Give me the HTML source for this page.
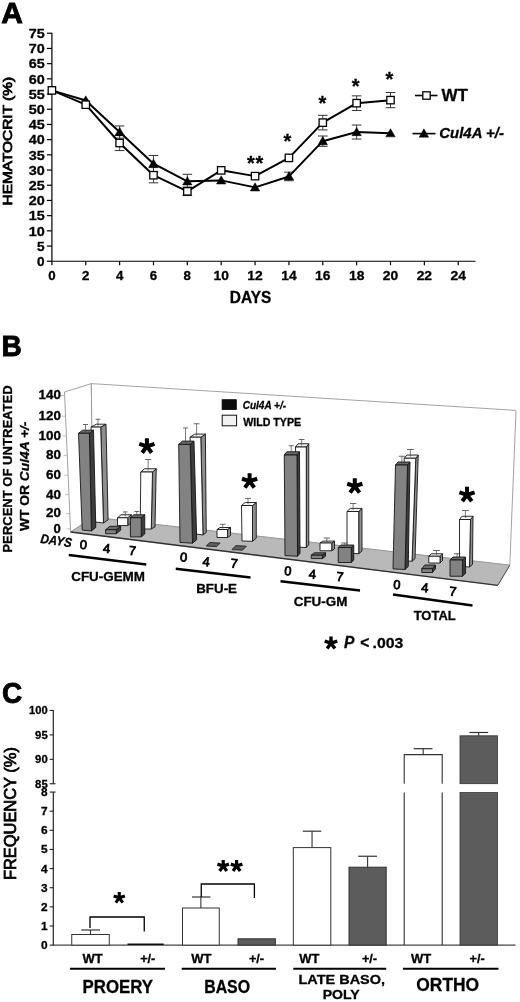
<!DOCTYPE html>
<html><head><meta charset="utf-8"><title>Figure</title>
<style>
html,body{margin:0;padding:0;background:#fff;}
body{width:520px;height:1002px;overflow:hidden;}
svg{display:block;font-family:"Liberation Sans",sans-serif;}
text{fill:#000;stroke:#000;stroke-width:0.3px;}
.big{stroke-width:0.9px;}
.med{font-weight:normal;stroke:#000;stroke-width:0.8px;}
</style></head><body>
<svg width="520" height="1002" viewBox="0 0 520 1002">
<defs><filter id="soft" x="0" y="0" width="520" height="1002" filterUnits="userSpaceOnUse"><feGaussianBlur stdDeviation="0.3"/></filter></defs>
<rect x="0" y="0" width="520" height="1002" fill="#fff"/>
<g filter="url(#soft)">
<g id="pA">
<text transform="translate(1.2,23.1) scale(1.0,1)" font-size="30.0" font-weight="bold" class="big">A</text>
<line x1="51.90" y1="32.65" x2="51.90" y2="261.85" stroke="#000" stroke-width="1.2" />
<line x1="51.30" y1="261.25" x2="475.50" y2="261.25" stroke="#000" stroke-width="1.2" />
<line x1="46.90" y1="261.25" x2="51.90" y2="261.25" stroke="#000" stroke-width="1.2" />
<text x="44.70" y="265.95" font-size="13.2" font-weight="bold" text-anchor="end" textLength="7.60" lengthAdjust="spacingAndGlyphs">0</text>
<line x1="46.90" y1="246.05" x2="51.90" y2="246.05" stroke="#000" stroke-width="1.2" />
<text x="44.70" y="250.75" font-size="13.2" font-weight="bold" text-anchor="end" textLength="7.60" lengthAdjust="spacingAndGlyphs">5</text>
<line x1="46.90" y1="230.85" x2="51.90" y2="230.85" stroke="#000" stroke-width="1.2" />
<text x="44.70" y="235.55" font-size="13.2" font-weight="bold" text-anchor="end" textLength="16.00" lengthAdjust="spacingAndGlyphs">10</text>
<line x1="46.90" y1="215.65" x2="51.90" y2="215.65" stroke="#000" stroke-width="1.2" />
<text x="44.70" y="220.35" font-size="13.2" font-weight="bold" text-anchor="end" textLength="16.00" lengthAdjust="spacingAndGlyphs">15</text>
<line x1="46.90" y1="200.45" x2="51.90" y2="200.45" stroke="#000" stroke-width="1.2" />
<text x="44.70" y="205.15" font-size="13.2" font-weight="bold" text-anchor="end" textLength="16.00" lengthAdjust="spacingAndGlyphs">20</text>
<line x1="46.90" y1="185.25" x2="51.90" y2="185.25" stroke="#000" stroke-width="1.2" />
<text x="44.70" y="189.95" font-size="13.2" font-weight="bold" text-anchor="end" textLength="16.00" lengthAdjust="spacingAndGlyphs">25</text>
<line x1="46.90" y1="170.05" x2="51.90" y2="170.05" stroke="#000" stroke-width="1.2" />
<text x="44.70" y="174.75" font-size="13.2" font-weight="bold" text-anchor="end" textLength="16.00" lengthAdjust="spacingAndGlyphs">30</text>
<line x1="46.90" y1="154.85" x2="51.90" y2="154.85" stroke="#000" stroke-width="1.2" />
<text x="44.70" y="159.55" font-size="13.2" font-weight="bold" text-anchor="end" textLength="16.00" lengthAdjust="spacingAndGlyphs">35</text>
<line x1="46.90" y1="139.65" x2="51.90" y2="139.65" stroke="#000" stroke-width="1.2" />
<text x="44.70" y="144.35" font-size="13.2" font-weight="bold" text-anchor="end" textLength="16.00" lengthAdjust="spacingAndGlyphs">40</text>
<line x1="46.90" y1="124.45" x2="51.90" y2="124.45" stroke="#000" stroke-width="1.2" />
<text x="44.70" y="129.15" font-size="13.2" font-weight="bold" text-anchor="end" textLength="16.00" lengthAdjust="spacingAndGlyphs">45</text>
<line x1="46.90" y1="109.25" x2="51.90" y2="109.25" stroke="#000" stroke-width="1.2" />
<text x="44.70" y="113.95" font-size="13.2" font-weight="bold" text-anchor="end" textLength="16.00" lengthAdjust="spacingAndGlyphs">50</text>
<line x1="46.90" y1="94.05" x2="51.90" y2="94.05" stroke="#000" stroke-width="1.2" />
<text x="44.70" y="98.75" font-size="13.2" font-weight="bold" text-anchor="end" textLength="16.00" lengthAdjust="spacingAndGlyphs">55</text>
<line x1="46.90" y1="78.85" x2="51.90" y2="78.85" stroke="#000" stroke-width="1.2" />
<text x="44.70" y="83.55" font-size="13.2" font-weight="bold" text-anchor="end" textLength="16.00" lengthAdjust="spacingAndGlyphs">60</text>
<line x1="46.90" y1="63.65" x2="51.90" y2="63.65" stroke="#000" stroke-width="1.2" />
<text x="44.70" y="68.35" font-size="13.2" font-weight="bold" text-anchor="end" textLength="16.00" lengthAdjust="spacingAndGlyphs">65</text>
<line x1="46.90" y1="48.45" x2="51.90" y2="48.45" stroke="#000" stroke-width="1.2" />
<text x="44.70" y="53.15" font-size="13.2" font-weight="bold" text-anchor="end" textLength="16.00" lengthAdjust="spacingAndGlyphs">70</text>
<line x1="46.90" y1="33.25" x2="51.90" y2="33.25" stroke="#000" stroke-width="1.2" />
<text x="44.70" y="37.95" font-size="13.2" font-weight="bold" text-anchor="end" textLength="16.00" lengthAdjust="spacingAndGlyphs">75</text>
<line x1="51.90" y1="261.25" x2="51.90" y2="265.25" stroke="#000" stroke-width="1.2" />
<text x="51.90" y="279.70" font-size="13.2" font-weight="bold" text-anchor="middle" textLength="7.40" lengthAdjust="spacingAndGlyphs">0</text>
<line x1="85.76" y1="261.25" x2="85.76" y2="265.25" stroke="#000" stroke-width="1.2" />
<text x="85.76" y="279.70" font-size="13.2" font-weight="bold" text-anchor="middle" textLength="7.40" lengthAdjust="spacingAndGlyphs">2</text>
<line x1="119.62" y1="261.25" x2="119.62" y2="265.25" stroke="#000" stroke-width="1.2" />
<text x="119.62" y="279.70" font-size="13.2" font-weight="bold" text-anchor="middle" textLength="7.40" lengthAdjust="spacingAndGlyphs">4</text>
<line x1="153.48" y1="261.25" x2="153.48" y2="265.25" stroke="#000" stroke-width="1.2" />
<text x="153.48" y="279.70" font-size="13.2" font-weight="bold" text-anchor="middle" textLength="7.40" lengthAdjust="spacingAndGlyphs">6</text>
<line x1="187.34" y1="261.25" x2="187.34" y2="265.25" stroke="#000" stroke-width="1.2" />
<text x="187.34" y="279.70" font-size="13.2" font-weight="bold" text-anchor="middle" textLength="7.40" lengthAdjust="spacingAndGlyphs">8</text>
<line x1="221.20" y1="261.25" x2="221.20" y2="265.25" stroke="#000" stroke-width="1.2" />
<text x="221.20" y="279.70" font-size="13.2" font-weight="bold" text-anchor="middle" textLength="15.40" lengthAdjust="spacingAndGlyphs">10</text>
<line x1="255.06" y1="261.25" x2="255.06" y2="265.25" stroke="#000" stroke-width="1.2" />
<text x="255.06" y="279.70" font-size="13.2" font-weight="bold" text-anchor="middle" textLength="15.40" lengthAdjust="spacingAndGlyphs">12</text>
<line x1="288.92" y1="261.25" x2="288.92" y2="265.25" stroke="#000" stroke-width="1.2" />
<text x="288.92" y="279.70" font-size="13.2" font-weight="bold" text-anchor="middle" textLength="15.40" lengthAdjust="spacingAndGlyphs">14</text>
<line x1="322.78" y1="261.25" x2="322.78" y2="265.25" stroke="#000" stroke-width="1.2" />
<text x="322.78" y="279.70" font-size="13.2" font-weight="bold" text-anchor="middle" textLength="15.40" lengthAdjust="spacingAndGlyphs">16</text>
<line x1="356.64" y1="261.25" x2="356.64" y2="265.25" stroke="#000" stroke-width="1.2" />
<text x="356.64" y="279.70" font-size="13.2" font-weight="bold" text-anchor="middle" textLength="15.40" lengthAdjust="spacingAndGlyphs">18</text>
<line x1="390.50" y1="261.25" x2="390.50" y2="265.25" stroke="#000" stroke-width="1.2" />
<text x="390.50" y="279.70" font-size="13.2" font-weight="bold" text-anchor="middle" textLength="15.40" lengthAdjust="spacingAndGlyphs">20</text>
<line x1="424.36" y1="261.25" x2="424.36" y2="265.25" stroke="#000" stroke-width="1.2" />
<text x="424.36" y="279.70" font-size="13.2" font-weight="bold" text-anchor="middle" textLength="15.40" lengthAdjust="spacingAndGlyphs">22</text>
<line x1="458.22" y1="261.25" x2="458.22" y2="265.25" stroke="#000" stroke-width="1.2" />
<text x="458.22" y="279.70" font-size="13.2" font-weight="bold" text-anchor="middle" textLength="15.40" lengthAdjust="spacingAndGlyphs">24</text>
<text x="250.60" y="303.10" font-size="16.0" font-weight="bold" text-anchor="middle" textLength="41.50" lengthAdjust="spacingAndGlyphs">DAYS</text>
<text transform="translate(12.3,141.2) rotate(-90)" font-size="13.6" text-anchor="middle" textLength="128.5" lengthAdjust="spacingAndGlyphs" class="med">HEMATOCRIT (%)</text>
<line x1="119.62" y1="135.39" x2="119.62" y2="150.59" stroke="#333" stroke-width="0.9" />
<line x1="114.82" y1="135.39" x2="124.42" y2="135.39" stroke="#333" stroke-width="1.0" />
<line x1="114.82" y1="150.59" x2="124.42" y2="150.59" stroke="#333" stroke-width="1.0" />
<line x1="153.48" y1="167.62" x2="153.48" y2="182.82" stroke="#333" stroke-width="0.9" />
<line x1="148.68" y1="167.62" x2="158.28" y2="167.62" stroke="#333" stroke-width="1.0" />
<line x1="148.68" y1="182.82" x2="158.28" y2="182.82" stroke="#333" stroke-width="1.0" />
<line x1="187.34" y1="187.07" x2="187.34" y2="195.59" stroke="#333" stroke-width="0.9" />
<line x1="182.54" y1="187.07" x2="192.14" y2="187.07" stroke="#333" stroke-width="1.0" />
<line x1="182.54" y1="195.59" x2="192.14" y2="195.59" stroke="#333" stroke-width="1.0" />
<line x1="322.78" y1="115.33" x2="322.78" y2="129.92" stroke="#333" stroke-width="0.9" />
<line x1="317.98" y1="115.33" x2="327.58" y2="115.33" stroke="#333" stroke-width="1.0" />
<line x1="317.98" y1="129.92" x2="327.58" y2="129.92" stroke="#333" stroke-width="1.0" />
<line x1="356.64" y1="95.87" x2="356.64" y2="110.47" stroke="#333" stroke-width="0.9" />
<line x1="351.84" y1="95.87" x2="361.44" y2="95.87" stroke="#333" stroke-width="1.0" />
<line x1="351.84" y1="110.47" x2="361.44" y2="110.47" stroke="#333" stroke-width="1.0" />
<line x1="390.50" y1="92.53" x2="390.50" y2="107.73" stroke="#333" stroke-width="0.9" />
<line x1="385.70" y1="92.53" x2="395.30" y2="92.53" stroke="#333" stroke-width="1.0" />
<line x1="385.70" y1="107.73" x2="395.30" y2="107.73" stroke="#333" stroke-width="1.0" />
<line x1="119.62" y1="125.97" x2="119.62" y2="138.13" stroke="#333" stroke-width="0.9" />
<line x1="114.82" y1="125.97" x2="124.42" y2="125.97" stroke="#333" stroke-width="1.0" />
<line x1="114.82" y1="138.13" x2="124.42" y2="138.13" stroke="#333" stroke-width="1.0" />
<line x1="153.48" y1="155.46" x2="153.48" y2="171.87" stroke="#333" stroke-width="0.9" />
<line x1="148.68" y1="155.46" x2="158.28" y2="155.46" stroke="#333" stroke-width="1.0" />
<line x1="148.68" y1="171.87" x2="158.28" y2="171.87" stroke="#333" stroke-width="1.0" />
<line x1="187.34" y1="174.31" x2="187.34" y2="188.29" stroke="#333" stroke-width="0.9" />
<line x1="182.54" y1="174.31" x2="192.14" y2="174.31" stroke="#333" stroke-width="1.0" />
<line x1="182.54" y1="188.29" x2="192.14" y2="188.29" stroke="#333" stroke-width="1.0" />
<line x1="288.92" y1="172.18" x2="288.92" y2="180.69" stroke="#333" stroke-width="0.9" />
<line x1="284.12" y1="172.18" x2="293.72" y2="172.18" stroke="#333" stroke-width="1.0" />
<line x1="284.12" y1="180.69" x2="293.72" y2="180.69" stroke="#333" stroke-width="1.0" />
<line x1="322.78" y1="136.00" x2="322.78" y2="146.34" stroke="#333" stroke-width="0.9" />
<line x1="317.98" y1="136.00" x2="327.58" y2="136.00" stroke="#333" stroke-width="1.0" />
<line x1="317.98" y1="146.34" x2="327.58" y2="146.34" stroke="#333" stroke-width="1.0" />
<line x1="356.64" y1="125.06" x2="356.64" y2="139.04" stroke="#333" stroke-width="0.9" />
<line x1="351.84" y1="125.06" x2="361.44" y2="125.06" stroke="#333" stroke-width="1.0" />
<line x1="351.84" y1="139.04" x2="361.44" y2="139.04" stroke="#333" stroke-width="1.0" />
<polyline points="51.90,90.40 85.76,100.43 119.62,132.05 153.48,163.67 187.34,181.30 221.20,180.39 255.06,187.38 288.92,176.43 322.78,141.17 356.64,132.05 390.50,133.27" fill="none" stroke="#000" stroke-width="2" stroke-linejoin="round"/>
<polyline points="51.90,90.40 85.76,104.69 119.62,142.99 153.48,175.22 187.34,191.33 221.20,170.35 255.06,176.13 288.92,157.89 322.78,122.63 356.64,103.17 390.50,100.13" fill="none" stroke="#000" stroke-width="2" stroke-linejoin="round"/>
<polygon points="85.76,95.83 90.46,104.03 81.06,104.03" fill="#000" stroke="#000" stroke-width="0.5" stroke-linejoin="round" />
<polygon points="119.62,127.45 124.32,135.65 114.92,135.65" fill="#000" stroke="#000" stroke-width="0.5" stroke-linejoin="round" />
<polygon points="153.48,159.07 158.18,167.27 148.78,167.27" fill="#000" stroke="#000" stroke-width="0.5" stroke-linejoin="round" />
<polygon points="187.34,176.70 192.04,184.90 182.64,184.90" fill="#000" stroke="#000" stroke-width="0.5" stroke-linejoin="round" />
<polygon points="221.20,175.79 225.90,183.99 216.50,183.99" fill="#000" stroke="#000" stroke-width="0.5" stroke-linejoin="round" />
<polygon points="255.06,182.78 259.76,190.98 250.36,190.98" fill="#000" stroke="#000" stroke-width="0.5" stroke-linejoin="round" />
<polygon points="288.92,171.83 293.62,180.03 284.22,180.03" fill="#000" stroke="#000" stroke-width="0.5" stroke-linejoin="round" />
<polygon points="322.78,136.57 327.48,144.77 318.08,144.77" fill="#000" stroke="#000" stroke-width="0.5" stroke-linejoin="round" />
<polygon points="356.64,127.45 361.34,135.65 351.94,135.65" fill="#000" stroke="#000" stroke-width="0.5" stroke-linejoin="round" />
<polygon points="390.50,128.67 395.20,136.87 385.80,136.87" fill="#000" stroke="#000" stroke-width="0.5" stroke-linejoin="round" />
<rect x="48.20" y="86.70" width="7.4" height="7.4" fill="#fff" stroke="#000" stroke-width="1.3"/>
<rect x="82.06" y="100.99" width="7.4" height="7.4" fill="#fff" stroke="#000" stroke-width="1.3"/>
<rect x="115.92" y="139.29" width="7.4" height="7.4" fill="#fff" stroke="#000" stroke-width="1.3"/>
<rect x="149.78" y="171.52" width="7.4" height="7.4" fill="#fff" stroke="#000" stroke-width="1.3"/>
<rect x="183.64" y="187.63" width="7.4" height="7.4" fill="#fff" stroke="#000" stroke-width="1.3"/>
<rect x="217.50" y="166.65" width="7.4" height="7.4" fill="#fff" stroke="#000" stroke-width="1.3"/>
<rect x="251.36" y="172.43" width="7.4" height="7.4" fill="#fff" stroke="#000" stroke-width="1.3"/>
<rect x="285.22" y="154.19" width="7.4" height="7.4" fill="#fff" stroke="#000" stroke-width="1.3"/>
<rect x="319.08" y="118.93" width="7.4" height="7.4" fill="#fff" stroke="#000" stroke-width="1.3"/>
<rect x="352.94" y="99.47" width="7.4" height="7.4" fill="#fff" stroke="#000" stroke-width="1.3"/>
<rect x="386.80" y="96.43" width="7.4" height="7.4" fill="#fff" stroke="#000" stroke-width="1.3"/>
<text x="287.50" y="147.65" font-size="20" font-weight="bold" text-anchor="middle">*</text>
<text x="322.50" y="110.15" font-size="20" font-weight="bold" text-anchor="middle">*</text>
<text x="355.75" y="93.15" font-size="20" font-weight="bold" text-anchor="middle">*</text>
<text x="389.50" y="85.65" font-size="20" font-weight="bold" text-anchor="middle">*</text>
<text x="250.90" y="169.60" font-size="20" font-weight="bold" text-anchor="middle">*</text>
<text x="259.30" y="169.60" font-size="20" font-weight="bold" text-anchor="middle">*</text>
<line x1="415.00" y1="95.50" x2="437.50" y2="95.50" stroke="#000" stroke-width="1.6" />
<rect x="422.8" y="91.8" width="7.4" height="7.4" fill="#fff" stroke="#000" stroke-width="1.3"/>
<text x="441.40" y="100.70" font-size="16.4" font-weight="bold" text-anchor="start" textLength="26.40" lengthAdjust="spacingAndGlyphs">WT</text>
<line x1="412.50" y1="133.60" x2="435.50" y2="133.60" stroke="#000" stroke-width="1.6" />
<polygon points="423.90,128.80 428.60,137.20 419.20,137.20" fill="#000" stroke="#000" stroke-width="0.5" stroke-linejoin="round" />
<text x="439.30" y="138.40" font-size="15.0" font-weight="bold" text-anchor="start" font-style="italic" textLength="64.60" lengthAdjust="spacingAndGlyphs">Cul4A +/-</text>
</g>
<g id="pB">
<text transform="translate(1.5,356.3) scale(0.93,1)" font-size="30.2" font-weight="bold" class="big">B</text>
<polygon points="64.50,392.00 91.30,383.60 93.00,517.20 70.60,532.00" fill="#fff" stroke="#8c8c8c" stroke-width="0.8" stroke-linejoin="round" />
<polygon points="91.30,383.60 516.00,410.40 509.80,565.20 93.00,517.20" fill="#fff" stroke="#8c8c8c" stroke-width="0.8" stroke-linejoin="round" />
<polygon points="70.60,532.00 93.00,517.20 509.80,565.20 497.80,585.30" fill="#b9b9b9" stroke="#8a8a8a" stroke-width="0.6" stroke-linejoin="round" />
<line x1="70.60" y1="532.00" x2="497.80" y2="585.30" stroke="#333" stroke-width="1.3" />
<line x1="497.80" y1="585.30" x2="509.80" y2="565.20" stroke="#555" stroke-width="1.0" />
<text x="60.90" y="399.30" font-size="12.4" font-weight="bold" text-anchor="end" textLength="22.40" lengthAdjust="spacingAndGlyphs">140</text>
<line x1="61.04" y1="395.50" x2="64.64" y2="395.50" stroke="#aaa" stroke-width="0.8" />
<text x="60.90" y="420.00" font-size="12.4" font-weight="bold" text-anchor="end" textLength="22.40" lengthAdjust="spacingAndGlyphs">120</text>
<line x1="61.94" y1="416.20" x2="65.54" y2="416.20" stroke="#aaa" stroke-width="0.8" />
<text x="60.90" y="439.80" font-size="12.4" font-weight="bold" text-anchor="end" textLength="22.40" lengthAdjust="spacingAndGlyphs">100</text>
<line x1="62.80" y1="436.00" x2="66.40" y2="436.00" stroke="#aaa" stroke-width="0.8" />
<text x="60.90" y="459.40" font-size="12.4" font-weight="bold" text-anchor="end" textLength="15.00" lengthAdjust="spacingAndGlyphs">80</text>
<line x1="63.66" y1="455.60" x2="67.26" y2="455.60" stroke="#aaa" stroke-width="0.8" />
<text x="60.90" y="479.10" font-size="12.4" font-weight="bold" text-anchor="end" textLength="15.00" lengthAdjust="spacingAndGlyphs">60</text>
<line x1="64.52" y1="475.30" x2="68.12" y2="475.30" stroke="#aaa" stroke-width="0.8" />
<text x="60.90" y="498.50" font-size="12.4" font-weight="bold" text-anchor="end" textLength="15.00" lengthAdjust="spacingAndGlyphs">40</text>
<line x1="65.36" y1="494.70" x2="68.96" y2="494.70" stroke="#aaa" stroke-width="0.8" />
<text x="60.90" y="517.40" font-size="12.4" font-weight="bold" text-anchor="end" textLength="15.00" lengthAdjust="spacingAndGlyphs">20</text>
<line x1="66.19" y1="513.60" x2="69.79" y2="513.60" stroke="#aaa" stroke-width="0.8" />
<text x="60.90" y="532.70" font-size="12.4" font-weight="bold" text-anchor="end" textLength="7.30" lengthAdjust="spacingAndGlyphs">0</text>
<line x1="66.85" y1="528.90" x2="70.45" y2="528.90" stroke="#aaa" stroke-width="0.8" />
<text transform="translate(12.4,469) rotate(-90)" font-size="12.8" font-weight="bold" text-anchor="middle" textLength="167.3" lengthAdjust="spacingAndGlyphs">PERCENT OF UNTREATED</text>
<text transform="translate(28.9,476.3) rotate(-90)" font-size="12.8" font-weight="bold" text-anchor="middle" textLength="109.5" lengthAdjust="spacingAndGlyphs">WT OR <tspan font-style="italic">Cul4A +/-</tspan></text>
<polygon points="100.70,427.10 106.00,424.20 108.10,519.80 103.50,523.00" fill="#8e8e8e" stroke="#151515" stroke-width="0.9" stroke-linejoin="round" />
<polygon points="91.00,427.10 100.70,427.10 106.00,424.20 96.30,424.20" fill="#f4f4f4" stroke="#151515" stroke-width="0.9" stroke-linejoin="round" />
<polygon points="91.00,427.10 100.70,427.10 103.50,523.00 95.00,522.00" fill="#ffffff" stroke="#151515" stroke-width="0.9" stroke-linejoin="round" />
<line x1="98.00" y1="425.65" x2="98.00" y2="419.25" stroke="#444" stroke-width="0.7" />
<line x1="95.50" y1="419.25" x2="100.50" y2="419.25" stroke="#444" stroke-width="0.8" />
<polygon points="89.40,433.30 93.50,430.20 95.80,527.40 91.40,531.00" fill="#3c3c3c" stroke="#151515" stroke-width="0.9" stroke-linejoin="round" />
<polygon points="78.50,433.30 89.40,433.30 93.50,430.20 82.60,430.20" fill="#6a6a6a" stroke="#151515" stroke-width="0.9" stroke-linejoin="round" />
<polygon points="78.50,433.30 89.40,433.30 91.40,531.00 82.20,530.00" fill="#828282" stroke="#151515" stroke-width="0.9" stroke-linejoin="round" />
<line x1="85.50" y1="431.75" x2="85.50" y2="424.50" stroke="#444" stroke-width="0.7" />
<line x1="83.00" y1="424.50" x2="88.00" y2="424.50" stroke="#444" stroke-width="0.8" />
<polygon points="127.75,517.75 131.25,514.75 131.25,522.60 127.75,525.60" fill="#8e8e8e" stroke="#151515" stroke-width="0.9" stroke-linejoin="round" />
<polygon points="117.50,517.75 127.75,517.75 131.25,514.75 121.00,514.75" fill="#f4f4f4" stroke="#151515" stroke-width="0.9" stroke-linejoin="round" />
<polygon points="117.50,517.75 127.75,517.75 127.75,525.60 117.50,525.60" fill="#ffffff" stroke="#151515" stroke-width="0.9" stroke-linejoin="round" />
<line x1="125.25" y1="516.25" x2="125.25" y2="511.90" stroke="#444" stroke-width="0.7" />
<line x1="123.00" y1="511.90" x2="127.50" y2="511.90" stroke="#444" stroke-width="0.8" />
<polygon points="116.25,529.75 120.65,526.25 120.65,530.25 116.25,533.75" fill="#3c3c3c" stroke="#151515" stroke-width="0.9" stroke-linejoin="round" />
<polygon points="105.60,529.75 116.25,529.75 120.65,526.25 110.00,526.25" fill="#6a6a6a" stroke="#151515" stroke-width="0.9" stroke-linejoin="round" />
<polygon points="105.60,529.75 116.25,529.75 116.25,533.75 105.60,533.75" fill="#828282" stroke="#151515" stroke-width="0.9" stroke-linejoin="round" />
<polygon points="152.50,472.00 156.25,468.75 155.00,526.90 151.25,529.00" fill="#8e8e8e" stroke="#151515" stroke-width="0.9" stroke-linejoin="round" />
<polygon points="140.75,472.00 152.50,472.00 156.25,468.75 144.50,468.75" fill="#f4f4f4" stroke="#151515" stroke-width="0.9" stroke-linejoin="round" />
<polygon points="140.75,472.00 152.50,472.00 151.25,529.00 140.25,529.00" fill="#ffffff" stroke="#151515" stroke-width="0.9" stroke-linejoin="round" />
<line x1="148.12" y1="470.38" x2="148.12" y2="459.50" stroke="#444" stroke-width="0.7" />
<line x1="145.00" y1="459.50" x2="151.25" y2="459.50" stroke="#444" stroke-width="0.8" />
<polygon points="141.25,517.75 144.75,514.75 144.75,533.90 141.25,536.90" fill="#3c3c3c" stroke="#151515" stroke-width="0.9" stroke-linejoin="round" />
<polygon points="130.40,517.75 141.25,517.75 144.75,514.75 133.90,514.75" fill="#6a6a6a" stroke="#151515" stroke-width="0.9" stroke-linejoin="round" />
<polygon points="130.40,517.75 141.25,517.75 141.25,536.90 130.40,536.90" fill="#828282" stroke="#151515" stroke-width="0.9" stroke-linejoin="round" />
<line x1="136.90" y1="516.25" x2="136.90" y2="511.50" stroke="#444" stroke-width="0.7" />
<line x1="134.40" y1="511.50" x2="139.40" y2="511.50" stroke="#444" stroke-width="0.8" />
<polygon points="200.80,437.20 205.40,434.10 206.25,532.50 203.00,535.00" fill="#8e8e8e" stroke="#151515" stroke-width="0.9" stroke-linejoin="round" />
<polygon points="190.00,437.20 200.80,437.20 205.40,434.10 194.60,434.10" fill="#f4f4f4" stroke="#151515" stroke-width="0.9" stroke-linejoin="round" />
<polygon points="190.00,437.20 200.80,437.20 203.00,535.00 196.00,534.00" fill="#ffffff" stroke="#151515" stroke-width="0.9" stroke-linejoin="round" />
<line x1="196.62" y1="435.65" x2="196.62" y2="423.75" stroke="#444" stroke-width="0.7" />
<line x1="193.75" y1="423.75" x2="199.50" y2="423.75" stroke="#444" stroke-width="0.8" />
<polygon points="190.20,444.40 194.00,441.10 196.70,539.70 192.50,543.20" fill="#3c3c3c" stroke="#151515" stroke-width="0.9" stroke-linejoin="round" />
<polygon points="178.70,444.40 190.20,444.40 194.00,441.10 182.50,441.10" fill="#6a6a6a" stroke="#151515" stroke-width="0.9" stroke-linejoin="round" />
<polygon points="178.70,444.40 190.20,444.40 192.50,543.20 180.00,542.40" fill="#828282" stroke="#151515" stroke-width="0.9" stroke-linejoin="round" />
<line x1="185.50" y1="442.75" x2="185.50" y2="428.00" stroke="#444" stroke-width="0.7" />
<line x1="183.00" y1="428.00" x2="188.00" y2="428.00" stroke="#444" stroke-width="0.8" />
<polygon points="227.50,529.50 230.50,527.50 230.50,535.50 227.50,537.50" fill="#8e8e8e" stroke="#151515" stroke-width="0.9" stroke-linejoin="round" />
<polygon points="217.00,529.50 227.50,529.50 230.50,527.50 220.00,527.50" fill="#f4f4f4" stroke="#151515" stroke-width="0.9" stroke-linejoin="round" />
<polygon points="217.00,529.50 227.50,529.50 227.50,537.50 217.00,537.50" fill="#ffffff" stroke="#151515" stroke-width="0.9" stroke-linejoin="round" />
<line x1="222.75" y1="528.50" x2="222.75" y2="524.25" stroke="#444" stroke-width="0.7" />
<line x1="220.00" y1="524.25" x2="225.50" y2="524.25" stroke="#444" stroke-width="0.8" />
<polygon points="209.85,542.50 220.10,543.10 216.50,546.60 206.25,546.00" fill="#5e5e5e" stroke="#222" stroke-width="0.9" stroke-linejoin="round" />
<polygon points="252.50,505.50 256.25,502.50 256.25,538.15 252.50,541.25" fill="#8e8e8e" stroke="#151515" stroke-width="0.9" stroke-linejoin="round" />
<polygon points="241.50,505.50 252.50,505.50 256.25,502.50 245.25,502.50" fill="#f4f4f4" stroke="#151515" stroke-width="0.9" stroke-linejoin="round" />
<polygon points="241.50,505.50 252.50,505.50 252.50,541.25 242.00,541.00" fill="#ffffff" stroke="#151515" stroke-width="0.9" stroke-linejoin="round" />
<line x1="248.00" y1="504.00" x2="248.00" y2="498.40" stroke="#444" stroke-width="0.7" />
<line x1="245.00" y1="498.40" x2="251.00" y2="498.40" stroke="#444" stroke-width="0.8" />
<polygon points="235.80,545.60 246.30,546.20 242.50,550.20 232.00,549.60" fill="#5e5e5e" stroke="#222" stroke-width="0.9" stroke-linejoin="round" />
<polygon points="306.25,447.00 308.75,443.75 308.75,544.90 306.25,547.50" fill="#8e8e8e" stroke="#151515" stroke-width="0.9" stroke-linejoin="round" />
<polygon points="295.50,447.00 306.25,447.00 308.75,443.75 298.00,443.75" fill="#f4f4f4" stroke="#151515" stroke-width="0.9" stroke-linejoin="round" />
<polygon points="295.50,447.00 306.25,447.00 306.25,547.50 297.00,547.00" fill="#ffffff" stroke="#151515" stroke-width="0.9" stroke-linejoin="round" />
<line x1="301.62" y1="445.38" x2="301.62" y2="439.50" stroke="#444" stroke-width="0.7" />
<line x1="298.75" y1="439.50" x2="304.50" y2="439.50" stroke="#444" stroke-width="0.8" />
<polygon points="297.00,455.00 299.50,451.75 300.00,553.25 297.50,556.25" fill="#3c3c3c" stroke="#151515" stroke-width="0.9" stroke-linejoin="round" />
<polygon points="284.25,455.00 297.00,455.00 299.50,451.75 286.75,451.75" fill="#6a6a6a" stroke="#151515" stroke-width="0.9" stroke-linejoin="round" />
<polygon points="284.25,455.00 297.00,455.00 297.50,556.25 285.00,555.60" fill="#828282" stroke="#151515" stroke-width="0.9" stroke-linejoin="round" />
<line x1="291.25" y1="453.38" x2="291.25" y2="445.75" stroke="#444" stroke-width="0.7" />
<line x1="288.75" y1="445.75" x2="293.75" y2="445.75" stroke="#444" stroke-width="0.8" />
<polygon points="331.75,543.00 334.50,541.10 334.50,548.85 331.75,550.75" fill="#8e8e8e" stroke="#151515" stroke-width="0.9" stroke-linejoin="round" />
<polygon points="320.00,543.00 331.75,543.00 334.50,541.10 322.75,541.10" fill="#f4f4f4" stroke="#151515" stroke-width="0.9" stroke-linejoin="round" />
<polygon points="320.00,543.00 331.75,543.00 331.75,550.75 320.00,550.75" fill="#ffffff" stroke="#151515" stroke-width="0.9" stroke-linejoin="round" />
<line x1="326.88" y1="542.05" x2="326.88" y2="538.00" stroke="#444" stroke-width="0.7" />
<line x1="323.75" y1="538.00" x2="330.00" y2="538.00" stroke="#444" stroke-width="0.8" />
<polygon points="322.50,555.20 325.50,552.80 325.50,556.20 322.50,558.60" fill="#3c3c3c" stroke="#151515" stroke-width="0.9" stroke-linejoin="round" />
<polygon points="311.25,555.20 322.50,555.20 325.50,552.80 314.25,552.80" fill="#6a6a6a" stroke="#151515" stroke-width="0.9" stroke-linejoin="round" />
<polygon points="311.25,555.20 322.50,555.20 322.50,558.60 311.25,558.60" fill="#828282" stroke="#151515" stroke-width="0.9" stroke-linejoin="round" />
<polygon points="358.75,511.50 362.00,508.40 362.00,550.95 358.75,553.75" fill="#8e8e8e" stroke="#151515" stroke-width="0.9" stroke-linejoin="round" />
<polygon points="347.00,511.50 358.75,511.50 362.00,508.40 350.25,508.40" fill="#f4f4f4" stroke="#151515" stroke-width="0.9" stroke-linejoin="round" />
<polygon points="347.00,511.50 358.75,511.50 358.75,553.75 347.00,553.00" fill="#ffffff" stroke="#151515" stroke-width="0.9" stroke-linejoin="round" />
<line x1="353.12" y1="509.95" x2="353.12" y2="503.50" stroke="#444" stroke-width="0.7" />
<line x1="350.00" y1="503.50" x2="356.25" y2="503.50" stroke="#444" stroke-width="0.8" />
<polygon points="351.25,547.50 353.75,545.00 353.75,560.00 351.25,562.50" fill="#3c3c3c" stroke="#151515" stroke-width="0.9" stroke-linejoin="round" />
<polygon points="338.25,547.50 351.25,547.50 353.75,545.00 340.75,545.00" fill="#6a6a6a" stroke="#151515" stroke-width="0.9" stroke-linejoin="round" />
<polygon points="338.25,547.50 351.25,547.50 351.25,562.50 338.25,562.50" fill="#828282" stroke="#151515" stroke-width="0.9" stroke-linejoin="round" />
<line x1="344.38" y1="546.25" x2="344.38" y2="543.00" stroke="#444" stroke-width="0.7" />
<line x1="341.25" y1="543.00" x2="347.50" y2="543.00" stroke="#444" stroke-width="0.8" />
<polygon points="415.75,458.25 418.25,455.05 415.00,558.65 412.00,561.25" fill="#8e8e8e" stroke="#151515" stroke-width="0.9" stroke-linejoin="round" />
<polygon points="404.25,458.25 415.75,458.25 418.25,455.05 406.75,455.05" fill="#f4f4f4" stroke="#151515" stroke-width="0.9" stroke-linejoin="round" />
<polygon points="404.25,458.25 415.75,458.25 412.00,561.25 403.00,560.60" fill="#ffffff" stroke="#151515" stroke-width="0.9" stroke-linejoin="round" />
<line x1="410.38" y1="456.65" x2="410.38" y2="449.50" stroke="#444" stroke-width="0.7" />
<line x1="407.00" y1="449.50" x2="413.75" y2="449.50" stroke="#444" stroke-width="0.8" />
<polygon points="407.50,465.00 410.00,462.00 408.25,566.50 405.00,569.50" fill="#3c3c3c" stroke="#151515" stroke-width="0.9" stroke-linejoin="round" />
<polygon points="395.50,465.00 407.50,465.00 410.00,462.00 398.00,462.00" fill="#6a6a6a" stroke="#151515" stroke-width="0.9" stroke-linejoin="round" />
<polygon points="395.50,465.00 407.50,465.00 405.00,569.50 393.00,568.90" fill="#828282" stroke="#151515" stroke-width="0.9" stroke-linejoin="round" />
<line x1="401.88" y1="463.50" x2="401.88" y2="456.25" stroke="#444" stroke-width="0.7" />
<line x1="398.75" y1="456.25" x2="405.00" y2="456.25" stroke="#444" stroke-width="0.8" />
<polygon points="440.00,556.25 442.50,553.75 442.50,560.50 440.00,563.00" fill="#8e8e8e" stroke="#151515" stroke-width="0.9" stroke-linejoin="round" />
<polygon points="428.75,556.25 440.00,556.25 442.50,553.75 431.25,553.75" fill="#f4f4f4" stroke="#151515" stroke-width="0.9" stroke-linejoin="round" />
<polygon points="428.75,556.25 440.00,556.25 440.00,563.00 428.75,563.00" fill="#ffffff" stroke="#151515" stroke-width="0.9" stroke-linejoin="round" />
<line x1="436.50" y1="555.00" x2="436.50" y2="550.50" stroke="#444" stroke-width="0.7" />
<line x1="433.00" y1="550.50" x2="440.00" y2="550.50" stroke="#444" stroke-width="0.8" />
<polygon points="432.50,568.75 435.50,565.00 435.50,568.75 432.50,572.50" fill="#3c3c3c" stroke="#151515" stroke-width="0.9" stroke-linejoin="round" />
<polygon points="421.75,568.75 432.50,568.75 435.50,565.00 424.75,565.00" fill="#6a6a6a" stroke="#151515" stroke-width="0.9" stroke-linejoin="round" />
<polygon points="421.75,568.75 432.50,568.75 432.50,572.50 421.75,572.50" fill="#828282" stroke="#151515" stroke-width="0.9" stroke-linejoin="round" />
<polygon points="470.50,519.50 473.00,516.25 472.50,564.40 469.50,567.00" fill="#8e8e8e" stroke="#151515" stroke-width="0.9" stroke-linejoin="round" />
<polygon points="459.50,519.50 470.50,519.50 473.00,516.25 462.00,516.25" fill="#f4f4f4" stroke="#151515" stroke-width="0.9" stroke-linejoin="round" />
<polygon points="459.50,519.50 470.50,519.50 469.50,567.00 459.50,566.40" fill="#ffffff" stroke="#151515" stroke-width="0.9" stroke-linejoin="round" />
<line x1="465.38" y1="517.88" x2="465.38" y2="510.50" stroke="#444" stroke-width="0.7" />
<line x1="462.00" y1="510.50" x2="468.75" y2="510.50" stroke="#444" stroke-width="0.8" />
<polygon points="462.50,560.00 465.50,557.00 465.50,573.25 462.50,576.25" fill="#3c3c3c" stroke="#151515" stroke-width="0.9" stroke-linejoin="round" />
<polygon points="450.00,560.00 462.50,560.00 465.50,557.00 453.00,557.00" fill="#6a6a6a" stroke="#151515" stroke-width="0.9" stroke-linejoin="round" />
<polygon points="450.00,560.00 462.50,560.00 462.50,576.25 450.00,576.25" fill="#828282" stroke="#151515" stroke-width="0.9" stroke-linejoin="round" />
<line x1="457.12" y1="558.50" x2="457.12" y2="553.75" stroke="#444" stroke-width="0.7" />
<line x1="453.75" y1="553.75" x2="460.50" y2="553.75" stroke="#444" stroke-width="0.8" />
<path d="M146.90,446.30L146.90,438.30M146.90,446.30L139.29,443.83M146.90,446.30L142.20,452.77M146.90,446.30L151.60,452.77M146.90,446.30L154.51,443.83" stroke="#000" stroke-width="4.0" fill="none" stroke-linecap="butt"/>
<path d="M249.60,481.20L249.60,473.20M249.60,481.20L241.99,478.73M249.60,481.20L244.90,487.67M249.60,481.20L254.30,487.67M249.60,481.20L257.21,478.73" stroke="#000" stroke-width="4.0" fill="none" stroke-linecap="butt"/>
<path d="M354.80,486.20L354.80,478.20M354.80,486.20L347.19,483.73M354.80,486.20L350.10,492.67M354.80,486.20L359.50,492.67M354.80,486.20L362.41,483.73" stroke="#000" stroke-width="4.0" fill="none" stroke-linecap="butt"/>
<path d="M467.00,494.80L467.00,486.80M467.00,494.80L459.39,492.33M467.00,494.80L462.30,501.27M467.00,494.80L471.70,501.27M467.00,494.80L474.61,492.33" stroke="#000" stroke-width="4.0" fill="none" stroke-linecap="butt"/>
<rect x="222.1" y="399.7" width="14.2" height="9.8" fill="#111" stroke="#000" stroke-width="0.8"/>
<rect x="222.2" y="415.2" width="14.4" height="10.6" fill="#f2f2f2" stroke="#111" stroke-width="1"/>
<text x="242.70" y="409.00" font-size="11.0" font-weight="bold" text-anchor="start" font-style="italic" textLength="43.40" lengthAdjust="spacingAndGlyphs">Cul4A +/-</text>
<text x="243.20" y="425.60" font-size="11.2" font-weight="bold" text-anchor="start" textLength="58.00" lengthAdjust="spacingAndGlyphs">WILD TYPE</text>
<text transform="translate(40.0,542.7) rotate(8.5)" font-size="13.0" font-weight="bold" font-style="italic" textLength="31.5" lengthAdjust="spacingAndGlyphs">DAYS</text>
<text x="83.30" y="549.00" font-size="12.8" font-weight="normal" text-anchor="middle" transform="rotate(5 83.3 544.8)" class="med">0</text>
<text x="106.60" y="552.80" font-size="12.8" font-weight="normal" text-anchor="middle" transform="rotate(5 106.6 548.6)" class="med">4</text>
<text x="132.30" y="555.20" font-size="12.8" font-weight="normal" text-anchor="middle" transform="rotate(5 132.3 551.0)" class="med">7</text>
<text x="183.75" y="561.70" font-size="12.8" font-weight="normal" text-anchor="middle" transform="rotate(5 183.75 557.5)" class="med">0</text>
<text x="206.25" y="566.20" font-size="12.8" font-weight="normal" text-anchor="middle" transform="rotate(5 206.25 562)" class="med">4</text>
<text x="234.25" y="567.95" font-size="12.8" font-weight="normal" text-anchor="middle" transform="rotate(5 234.25 563.75)" class="med">7</text>
<text x="288.00" y="575.45" font-size="12.8" font-weight="normal" text-anchor="middle" transform="rotate(5 288 571.25)" class="med">0</text>
<text x="312.50" y="578.70" font-size="12.8" font-weight="normal" text-anchor="middle" transform="rotate(5 312.5 574.5)" class="med">4</text>
<text x="340.00" y="581.20" font-size="12.8" font-weight="normal" text-anchor="middle" transform="rotate(5 340 577)" class="med">7</text>
<text x="397.00" y="589.20" font-size="12.8" font-weight="normal" text-anchor="middle" transform="rotate(5 397 585)" class="med">0</text>
<text x="425.00" y="592.20" font-size="12.8" font-weight="normal" text-anchor="middle" transform="rotate(5 425 588)" class="med">4</text>
<text x="453.00" y="595.95" font-size="12.8" font-weight="normal" text-anchor="middle" transform="rotate(5 453 591.75)" class="med">7</text>
<line x1="68.75" y1="555.00" x2="146.25" y2="564.50" stroke="#000" stroke-width="2.3" />
<line x1="175.75" y1="568.75" x2="250.50" y2="577.50" stroke="#000" stroke-width="2.3" />
<line x1="280.50" y1="581.25" x2="360.00" y2="590.50" stroke="#000" stroke-width="2.3" />
<line x1="393.00" y1="594.50" x2="472.50" y2="605.50" stroke="#000" stroke-width="2.3" />
<text x="108.10" y="580.50" font-size="12.9" font-weight="bold" text-anchor="middle" textLength="73.80" lengthAdjust="spacingAndGlyphs">CFU-GEMM</text>
<text x="216.60" y="592.60" font-size="12.9" font-weight="bold" text-anchor="middle" textLength="40.80" lengthAdjust="spacingAndGlyphs">BFU-E</text>
<text x="320.60" y="605.50" font-size="12.9" font-weight="bold" text-anchor="middle" textLength="53.80" lengthAdjust="spacingAndGlyphs">CFU-GM</text>
<text x="434.70" y="619.60" font-size="12.9" font-weight="bold" text-anchor="middle" textLength="42.00" lengthAdjust="spacingAndGlyphs">TOTAL</text>
<path d="M331.00,643.20L331.00,636.60M331.00,643.20L324.72,641.16M331.00,643.20L327.12,648.54M331.00,643.20L334.88,648.54M331.00,643.20L337.28,641.16" stroke="#000" stroke-width="3.4" fill="none" stroke-linecap="butt"/>
<text x="344.00" y="647.70" font-size="15.6" font-weight="bold" text-anchor="start" font-style="italic">P</text>
<text x="360.30" y="647.90" font-size="15.6" font-weight="bold" text-anchor="start">&lt;</text>
<text x="372.60" y="647.70" font-size="15.4" font-weight="bold" text-anchor="start" textLength="30.80" lengthAdjust="spacingAndGlyphs">.003</text>
</g>
<g id="pC">
<text transform="translate(1.9,703.3) scale(0.92,1)" font-size="30.4" font-weight="bold" class="big">C</text>
<line x1="53.30" y1="709.98" x2="53.30" y2="783.75" stroke="#222" stroke-width="1.2" />
<line x1="53.30" y1="792.00" x2="53.30" y2="945.60" stroke="#222" stroke-width="1.2" />
<line x1="52.80" y1="945.10" x2="515.50" y2="945.10" stroke="#444" stroke-width="1.2" />
<line x1="49.70" y1="710.48" x2="53.30" y2="710.48" stroke="#222" stroke-width="1.1" />
<text x="47.70" y="714.48" font-size="11.4" font-weight="bold" text-anchor="end" textLength="18.60" lengthAdjust="spacingAndGlyphs">100</text>
<line x1="49.70" y1="734.90" x2="53.30" y2="734.90" stroke="#222" stroke-width="1.1" />
<text x="47.70" y="738.90" font-size="11.4" font-weight="bold" text-anchor="end" textLength="12.60" lengthAdjust="spacingAndGlyphs">95</text>
<line x1="49.70" y1="759.33" x2="53.30" y2="759.33" stroke="#222" stroke-width="1.1" />
<text x="47.70" y="763.33" font-size="11.4" font-weight="bold" text-anchor="end" textLength="12.60" lengthAdjust="spacingAndGlyphs">90</text>
<line x1="49.70" y1="783.75" x2="55.50" y2="783.75" stroke="#222" stroke-width="1.1" />
<text x="47.70" y="787.75" font-size="11.4" font-weight="bold" text-anchor="end" textLength="12.60" lengthAdjust="spacingAndGlyphs">85</text>
<line x1="49.70" y1="945.10" x2="53.30" y2="945.10" stroke="#222" stroke-width="1.1" />
<text x="47.70" y="949.10" font-size="11.4" font-weight="bold" text-anchor="end" textLength="6.60" lengthAdjust="spacingAndGlyphs">0</text>
<line x1="49.70" y1="925.97" x2="53.30" y2="925.97" stroke="#222" stroke-width="1.1" />
<text x="47.70" y="929.97" font-size="11.4" font-weight="bold" text-anchor="end" textLength="6.60" lengthAdjust="spacingAndGlyphs">1</text>
<line x1="49.70" y1="906.84" x2="53.30" y2="906.84" stroke="#222" stroke-width="1.1" />
<text x="47.70" y="910.84" font-size="11.4" font-weight="bold" text-anchor="end" textLength="6.60" lengthAdjust="spacingAndGlyphs">2</text>
<line x1="49.70" y1="887.71" x2="53.30" y2="887.71" stroke="#222" stroke-width="1.1" />
<text x="47.70" y="891.71" font-size="11.4" font-weight="bold" text-anchor="end" textLength="6.60" lengthAdjust="spacingAndGlyphs">3</text>
<line x1="49.70" y1="868.58" x2="53.30" y2="868.58" stroke="#222" stroke-width="1.1" />
<text x="47.70" y="872.58" font-size="11.4" font-weight="bold" text-anchor="end" textLength="6.60" lengthAdjust="spacingAndGlyphs">4</text>
<line x1="49.70" y1="849.45" x2="53.30" y2="849.45" stroke="#222" stroke-width="1.1" />
<text x="47.70" y="853.45" font-size="11.4" font-weight="bold" text-anchor="end" textLength="6.60" lengthAdjust="spacingAndGlyphs">5</text>
<line x1="49.70" y1="830.32" x2="53.30" y2="830.32" stroke="#222" stroke-width="1.1" />
<text x="47.70" y="834.32" font-size="11.4" font-weight="bold" text-anchor="end" textLength="6.60" lengthAdjust="spacingAndGlyphs">6</text>
<line x1="49.70" y1="811.19" x2="53.30" y2="811.19" stroke="#222" stroke-width="1.1" />
<text x="47.70" y="815.19" font-size="11.4" font-weight="bold" text-anchor="end" textLength="6.60" lengthAdjust="spacingAndGlyphs">7</text>
<line x1="49.70" y1="792.06" x2="55.50" y2="792.06" stroke="#222" stroke-width="1.1" />
<text x="47.70" y="796.06" font-size="11.4" font-weight="bold" text-anchor="end" textLength="6.60" lengthAdjust="spacingAndGlyphs">8</text>
<text transform="translate(16.2,813.6) rotate(-90)" font-size="16.6" font-weight="bold" text-anchor="middle" textLength="133" lengthAdjust="spacingAndGlyphs" class="med">FREQUENCY (%)</text>
<rect x="71.75" y="934.5" width="37.5" height="10.60" fill="#fff" stroke="#333" stroke-width="1.0"/>
<line x1="90.50" y1="934.50" x2="90.50" y2="930.00" stroke="#333" stroke-width="1.1" />
<line x1="81.25" y1="930.00" x2="100.00" y2="930.00" stroke="#333" stroke-width="1.2" />
<line x1="127.50" y1="944.30" x2="163.75" y2="944.30" stroke="#111" stroke-width="1.4" />
<rect x="182.5" y="908" width="36.75" height="37.10" fill="#fff" stroke="#333" stroke-width="1.0"/>
<line x1="200.88" y1="908.00" x2="200.88" y2="897.00" stroke="#333" stroke-width="1.1" />
<line x1="192.00" y1="897.00" x2="210.50" y2="897.00" stroke="#333" stroke-width="1.2" />
<rect x="238" y="938.8" width="37.39999999999998" height="6.30" fill="#5c5c5c" stroke="#333" stroke-width="1.0"/>
<rect x="293.3" y="847.6" width="37.5" height="97.50" fill="#fff" stroke="#333" stroke-width="1.0"/>
<line x1="312.05" y1="847.60" x2="312.05" y2="831.20" stroke="#333" stroke-width="1.1" />
<line x1="302.80" y1="831.20" x2="321.30" y2="831.20" stroke="#333" stroke-width="1.2" />
<rect x="349" y="867.2" width="37.19999999999999" height="77.90" fill="#5c5c5c" stroke="#333" stroke-width="1.0"/>
<line x1="367.60" y1="867.20" x2="367.60" y2="856.25" stroke="#333" stroke-width="1.1" />
<line x1="358.20" y1="856.25" x2="377.00" y2="856.25" stroke="#333" stroke-width="1.2" />
<path d="M404.2,783.7V754.6H442.2V783.7M404.2,792.4V945.1M442.2,792.4V945.1" fill="none" stroke="#333" stroke-width="1.1"/>
<line x1="423.20" y1="754.60" x2="423.20" y2="748.70" stroke="#333" stroke-width="1.1" />
<line x1="413.70" y1="748.70" x2="432.50" y2="748.70" stroke="#333" stroke-width="1.2" />
<rect x="460" y="735.8" width="37.39999999999998" height="47.90" fill="#5c5c5c" stroke="#333" stroke-width="0.8"/>
<rect x="460" y="792.6" width="37.39999999999998" height="152.50" fill="#5c5c5c" stroke="#333" stroke-width="0.8"/>
<line x1="478.70" y1="735.80" x2="478.70" y2="732.50" stroke="#333" stroke-width="1.1" />
<line x1="469.40" y1="732.50" x2="488.20" y2="732.50" stroke="#333" stroke-width="1.2" />
<path d="M90,928V917H144.25V931.5" fill="none" stroke="#000" stroke-width="1.3"/>
<path d="M201.25,897V884H254.4V898" fill="none" stroke="#000" stroke-width="1.3"/>
<path d="M119.25,897.80L119.25,891.90M119.25,897.80L113.64,895.98M119.25,897.80L115.78,902.57M119.25,897.80L122.72,902.57M119.25,897.80L124.86,895.98" stroke="#000" stroke-width="3.1" fill="none" stroke-linecap="butt"/>
<path d="M223.20,866.00L223.20,859.90M223.20,866.00L217.40,864.11M223.20,866.00L219.61,870.94M223.20,866.00L226.79,870.94M223.20,866.00L229.00,864.11" stroke="#000" stroke-width="3.2" fill="none" stroke-linecap="butt"/>
<path d="M236.60,866.00L236.60,859.90M236.60,866.00L230.80,864.11M236.60,866.00L233.01,870.94M236.60,866.00L240.19,870.94M236.60,866.00L242.40,864.11" stroke="#000" stroke-width="3.2" fill="none" stroke-linecap="butt"/>
<text x="92.50" y="963.00" font-size="12.6" font-weight="bold" text-anchor="middle" textLength="20.20" lengthAdjust="spacingAndGlyphs">WT</text>
<text x="201.25" y="963.00" font-size="12.6" font-weight="bold" text-anchor="middle" textLength="20.20" lengthAdjust="spacingAndGlyphs">WT</text>
<text x="309.40" y="963.00" font-size="12.6" font-weight="bold" text-anchor="middle" textLength="20.20" lengthAdjust="spacingAndGlyphs">WT</text>
<text x="421.10" y="963.00" font-size="12.6" font-weight="bold" text-anchor="middle" textLength="20.20" lengthAdjust="spacingAndGlyphs">WT</text>
<text x="147.75" y="963.00" font-size="12.6" font-weight="bold" text-anchor="middle" textLength="15.20" lengthAdjust="spacingAndGlyphs">+/-</text>
<text x="256.50" y="963.00" font-size="12.6" font-weight="bold" text-anchor="middle" textLength="15.20" lengthAdjust="spacingAndGlyphs">+/-</text>
<text x="369.50" y="963.00" font-size="12.6" font-weight="bold" text-anchor="middle" textLength="15.20" lengthAdjust="spacingAndGlyphs">+/-</text>
<text x="477.20" y="963.00" font-size="12.6" font-weight="bold" text-anchor="middle" textLength="15.20" lengthAdjust="spacingAndGlyphs">+/-</text>
<line x1="70.00" y1="968.80" x2="165.00" y2="968.80" stroke="#000" stroke-width="2.0" />
<line x1="181.75" y1="968.80" x2="276.00" y2="968.80" stroke="#000" stroke-width="2.0" />
<line x1="293.30" y1="968.80" x2="386.20" y2="968.80" stroke="#000" stroke-width="2.0" />
<line x1="402.90" y1="968.80" x2="498.50" y2="968.80" stroke="#000" stroke-width="2.0" />
<text x="117.75" y="992.50" font-size="17.8" font-weight="bold" text-anchor="middle" textLength="70.50" lengthAdjust="spacingAndGlyphs">PROERY</text>
<text x="227.10" y="992.50" font-size="17.8" font-weight="bold" text-anchor="middle" textLength="45.80" lengthAdjust="spacingAndGlyphs">BASO</text>
<text x="341.75" y="984.40" font-size="13" font-weight="bold" text-anchor="middle" textLength="86.50" lengthAdjust="spacingAndGlyphs">LATE BASO,</text>
<text x="341.20" y="999.20" font-size="13" font-weight="bold" text-anchor="middle" textLength="37.00" lengthAdjust="spacingAndGlyphs">POLY</text>
<text x="447.70" y="990.70" font-size="17.8" font-weight="bold" text-anchor="middle" textLength="62.80" lengthAdjust="spacingAndGlyphs">ORTHO</text>
</g>
</g>
</svg>
</body></html>
